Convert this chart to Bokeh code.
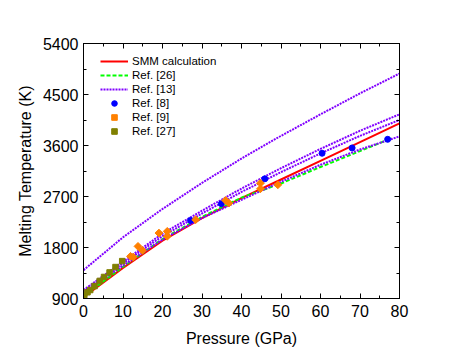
from bokeh.plotting import figure
from bokeh.models import LinearAxis, SingleIntervalTicker, Range1d, Legend, LegendItem
from bokeh.embed import file_html
from bokeh.resources import INLINE

# SMM calculation
smm_p = [0, 10, 20, 30, 40, 50, 60, 70, 80]
smm_t = [925, 1440, 1920, 2320, 2670, 3000, 3330, 3660, 3990]

# Ref. [26]
r26_p = [0, 10, 20, 30, 40, 50, 60, 70, 78]
r26_t = [940, 1460, 1950, 2340, 2680, 2930, 3220, 3500, 3730]

# Ref. [13] (four dotted curves)
r13_p = [0, 10, 20, 30, 40, 50, 60, 70, 80]
r13_top = [1400, 1980, 2480, 2940, 3370, 3770, 4150, 4520, 4870]
r13_a = [1050, 1550, 2045, 2450, 2840, 3200, 3540, 3860, 4150]
r13_b = [1030, 1520, 2000, 2400, 2780, 3130, 3460, 3770, 4050]
r13_c = [1000, 1480, 1940, 2320, 2640, 2960, 3260, 3530, 3760]

# Ref. [8]
r8_p = [27.1, 34.9, 45.9, 60.4, 68.0, 77.0]
r8_t = [2278, 2572, 3012, 3463, 3557, 3709]

# Ref. [9]
r9_p = [11.9, 12.6, 13.8, 14.9, 19.1, 21.2, 21.2, 28.4, 36.0, 36.8, 44.8, 44.8, 49.2]
r9_t = [1644, 1632, 1820, 1750, 2055, 2085, 1997, 2290, 2630, 2583, 2935, 2836, 2906]

# Ref. [27]
r27_p = [0.2, 1.0, 1.7, 2.8, 4.1, 5.2, 6.6, 8.1, 9.8]
r27_t = [960, 1010, 1050, 1120, 1210, 1280, 1360, 1455, 1560]

FONT = "Liberation Sans"

p = figure(width=455, height=350, output_backend="svg", toolbar_location=None,
           x_range=Range1d(0, 80), y_range=Range1d(900, 5400),
           min_border_left=83, min_border_top=43, min_border_right=56, min_border_bottom=52)
p.xgrid.visible = False
p.ygrid.visible = False
p.outline_line_color = "black"
p.outline_line_width = 1
p.background_fill_color = "white"

xt = SingleIntervalTicker(interval=10, num_minor_ticks=2)
yt = SingleIntervalTicker(interval=900, num_minor_ticks=2)

def style(ax, labels=True):
    ax.major_tick_in = 5
    ax.major_tick_out = 0
    ax.minor_tick_in = 3
    ax.minor_tick_out = 0
    ax.axis_line_color = "black"
    ax.major_tick_line_color = "black"
    ax.minor_tick_line_color = "black"
    ax.major_label_text_font = FONT
    ax.major_label_text_font_size = "16px"
    ax.major_label_text_color = "black" if labels else None
    ax.axis_label_text_font = FONT
    ax.axis_label_text_font_size = "16px"
    ax.axis_label_text_font_style = "normal"
    ax.axis_label_text_color = "black"

p.xaxis.ticker = xt
p.yaxis.ticker = yt
p.xaxis.axis_label = "Pressure (GPa)"
p.yaxis.axis_label = "Melting Temperature (K)"
style(p.xaxis[0])
style(p.yaxis[0])
p.xaxis.major_label_standoff = 6
p.xaxis.axis_label_standoff = 10
p.yaxis.major_label_standoff = 5
p.yaxis.axis_label_standoff = 6

top = LinearAxis(ticker=SingleIntervalTicker(interval=10, num_minor_ticks=2))
style(top, labels=False)
top.major_label_text_font_size = "0px"
top.major_label_standoff = 0
p.add_layout(top, "above")
right = LinearAxis(ticker=SingleIntervalTicker(interval=900, num_minor_ticks=2))
style(right, labels=False)
right.major_label_text_font_size = "0px"
right.major_label_standoff = 0
p.add_layout(right, "right")

purple = "#8000ff"
r_smm = p.line(smm_p, smm_t, line_color="#ff0000", line_width=2)
r_26 = p.line(r26_p, r26_t, line_color="#00ff00", line_width=2, line_dash="4 2")
r_13 = p.line(r13_p, r13_top, line_color=purple, line_width=2, line_dash="2 1")
for ys in (r13_a, r13_b, r13_c):
    p.line(r13_p, ys, line_color=purple, line_width=2, line_dash="2 1")
r_8 = p.scatter(r8_p, r8_t, marker="circle", size=6, fill_color="#0000ff", line_color="#0000ff")
r_9 = p.scatter(r9_p, r9_t, marker="square", angle=0.785398, size=5.5, fill_color="#ff8000", line_color="#ff8000")
r_27 = p.scatter(r27_p, r27_t, marker="square", size=5.5, fill_color="#808000", line_color="#808000")

legend = Legend(items=[
    LegendItem(label="SMM calculation", renderers=[r_smm]),
    LegendItem(label="Ref. [26]", renderers=[r_26]),
    LegendItem(label="Ref. [13]", renderers=[r_13]),
    LegendItem(label="Ref. [8]", renderers=[r_8]),
    LegendItem(label="Ref. [9]", renderers=[r_9]),
    LegendItem(label="Ref. [27]", renderers=[r_27]),
], location=(17, 160))
legend.border_line_color = None
legend.background_fill_alpha = 0
legend.padding = 0
legend.margin = 0
legend.spacing = 0
legend.glyph_width = 28
legend.glyph_height = 14
legend.label_height = 14
legend.label_standoff = 4
legend.label_text_font = FONT
legend.label_text_font_size = "11.5px"
legend.label_text_color = "black"
p.add_layout(legend)

open("out.html", "w").write(file_html(p, INLINE))
